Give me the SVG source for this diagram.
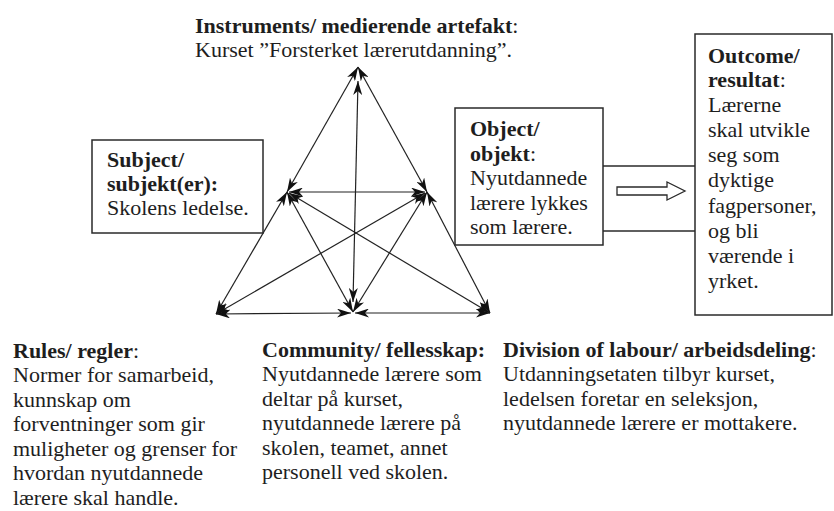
<svg xmlns="http://www.w3.org/2000/svg" width="834" height="511" viewBox="0 0 834 511">
  <defs>
    <style>
      .t { font-family: "Liberation Serif", "DejaVu Serif", "Noto Serif", Times, serif; font-size: 22px; fill: #1e1e1e; }
      .b { font-weight: bold; }
      .box { fill: #ffffff; stroke: #2a2a2a; stroke-width: 1.5; }
      .edge { fill: none; stroke: #222; stroke-width: 1.2; marker-start: url(#ah); marker-end: url(#ah); }
      .link { fill: none; stroke: #2a2a2a; stroke-width: 1.5; }
    </style>
    <marker id="ah" viewBox="0 0 14 9" refX="14" refY="4.5" markerWidth="14" markerHeight="9" orient="auto-start-reverse" markerUnits="userSpaceOnUse">
      <path d="M0,0 L14,4.5 L0,9 L4,4.5 z" fill="#111"/>
    </marker>
  </defs>
  <rect width="834" height="511" fill="#ffffff"/>

  <!-- activity triangle: every pair of related corners is joined by a two-way arrow -->
  <g id="connectors">
    <line class="edge" x1="358" y1="67" x2="287" y2="192"/>
    <line class="edge" x1="358" y1="67" x2="427" y2="192"/>
    <line class="edge" x1="358" y1="81" x2="353" y2="302"/>
    <line class="edge" x1="287" y1="192" x2="216" y2="314"/>
    <line class="edge" x1="427" y1="192" x2="490" y2="313"/>
    <line class="edge" x1="289" y1="192" x2="425" y2="192"/>
    <line class="edge" x1="287" y1="192" x2="353" y2="312"/>
    <line class="edge" x1="427" y1="192" x2="353" y2="312"/>
    <line class="edge" x1="216" y1="314" x2="351" y2="313"/>
    <line class="edge" x1="355" y1="313" x2="490" y2="313"/>
    <line class="edge" x1="289" y1="193" x2="490" y2="313"/>
    <line class="edge" x1="425" y1="193" x2="216" y2="314"/>
    <!-- object to outcome -->
    <line class="link" x1="603" y1="166" x2="695" y2="166"/>
    <line class="link" x1="603" y1="231" x2="695" y2="231"/>
    <path d="M617,187 L667,187 L667,182 L685,191 L667,200 L667,195 L617,195 Z" fill="#fff" stroke="#2a2a2a" stroke-width="1.3"/>
  </g>

  <g id="instruments">
    <text class="t" x="195" y="33"><tspan class="b">Instruments/ medierende artefakt</tspan>:</text>
    <text class="t" x="195" y="57">Kurset ”Forsterket lærerutdanning”.</text>
  </g>

  <g id="subject">
    <rect class="box" x="92" y="140" width="171" height="93"/>
    <text class="t b" x="107" y="167">Subject/</text>
    <text class="t b" x="107" y="191">subjekt(er):</text>
    <text class="t" x="107" y="215">Skolens ledelse.</text>
  </g>

  <g id="object">
    <rect class="box" x="455" y="108" width="148" height="137"/>
    <text class="t b" x="470" y="136">Object/</text>
    <text class="t" x="470" y="160.5"><tspan class="b">objekt</tspan>:</text>
    <text class="t" x="470" y="185">Nyutdannede</text>
    <text class="t" x="470" y="209.5">lærere lykkes</text>
    <text class="t" x="470" y="234">som lærere.</text>
  </g>

  <g id="outcome">
    <rect class="box" x="695" y="34" width="137" height="281"/>
    <text class="t b" x="708" y="63">Outcome/</text>
    <text class="t" x="708" y="87"><tspan class="b">resultat</tspan>:</text>
    <text class="t" x="708" y="112">Lærerne</text>
    <text class="t" x="708" y="137">skal utvikle</text>
    <text class="t" x="708" y="162">seg som</text>
    <text class="t" x="708" y="187">dyktige</text>
    <text class="t" x="708" y="213">fagpersoner,</text>
    <text class="t" x="708" y="238">og bli</text>
    <text class="t" x="708" y="263">værende i</text>
    <text class="t" x="708" y="288">yrket.</text>
  </g>

  <g id="rules">
    <text class="t" x="13" y="358"><tspan class="b">Rules/ regler</tspan>:</text>
    <text class="t" x="13" y="382">Normer for samarbeid,</text>
    <text class="t" x="13" y="407">kunnskap om</text>
    <text class="t" x="13" y="431">forventninger som gir</text>
    <text class="t" x="13" y="456">muligheter og grenser for</text>
    <text class="t" x="13" y="480">hvordan nyutdannede</text>
    <text class="t" x="13" y="505">lærere skal handle.</text>
  </g>

  <g id="community">
    <text class="t b" x="262" y="357">Community/ fellesskap:</text>
    <text class="t" x="262" y="381">Nyutdannede lærere som</text>
    <text class="t" x="262" y="406">deltar på kurset,</text>
    <text class="t" x="262" y="430">nyutdannede lærere på</text>
    <text class="t" x="262" y="455">skolen, teamet, annet</text>
    <text class="t" x="262" y="479">personell ved skolen.</text>
  </g>

  <g id="division">
    <text class="t" x="503" y="357"><tspan class="b">Division of labour/ arbeidsdeling</tspan>:</text>
    <text class="t" x="503" y="381">Utdanningsetaten tilbyr kurset,</text>
    <text class="t" x="503" y="406">ledelsen foretar en seleksjon,</text>
    <text class="t" x="503" y="430">nyutdannede lærere er mottakere.</text>
  </g>
</svg>
